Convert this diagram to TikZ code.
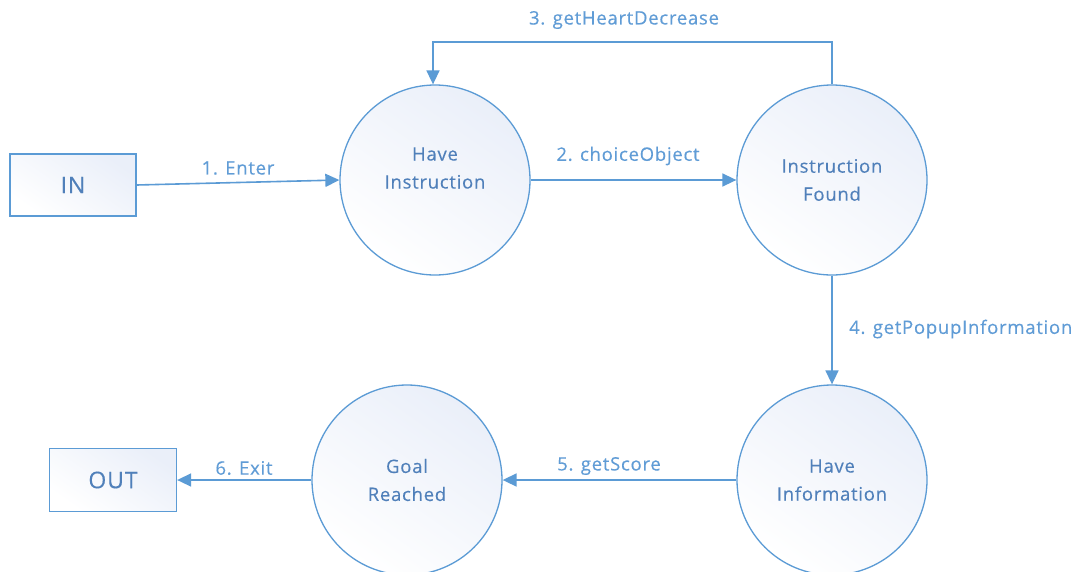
\documentclass[tikz,border=0pt]{standalone}
\usepackage{fontspec}
\setmainfont{Open Sans}[LetterSpace=4, FakeBold=0.3]
\usetikzlibrary{arrows.meta,shapes.geometric}
\definecolor{flowline}{RGB}{91,155,213}
\definecolor{flowlabel}{RGB}{96,156,214}
\definecolor{nodetext}{RGB}{80,128,186}
\definecolor{fillblue}{RGB}{234,239,249}
\tikzset{
  statetext/.style={align=center, text=nodetext, inner sep=0pt,
    font=\fontsize{18.5}{28}\selectfont},
  state/.style={circle, draw=flowline, line width=1.3pt, minimum size=190pt,
    inner sep=0pt, statetext,
    shading=axis, top color=fillblue, bottom color=white, shading angle=-35},
  terminal/.style={rectangle, draw=flowline, line width=1.3pt, inner sep=0pt,
    text=nodetext, font=\fontsize{23}{26}\selectfont,
    shading=axis, top color=fillblue, bottom color=white, shading angle=-35},
  flow/.style={draw=flowline, line width=1.6pt,
    -{Triangle[length=14pt,width=13pt]}},
  flowtext/.style={text=flowlabel, font=\fontsize{18.5}{20}\selectfont, inner sep=0pt}
}
\begin{document}
\begin{tikzpicture}[x=1pt,y=-1pt]
\useasboundingbox (0,0) rectangle (1076,571);
\fill[white] (0,0) rectangle (1076,571);

% terminals
\node[terminal, minimum width=126pt, minimum height=62pt] (in) at (73,185) {IN};
\node[terminal, minimum width=127pt, minimum height=63pt] (out) at (113,480) {OUT};

% states
\node[state] (hi) at (435,180) {};
\node[statetext] (hitxt) at ([yshift=12pt]hi.center) {Have\\Instruction};
\node[state] (if) at (832,180) {Instruction\\Found};
\node[state] (hn) at (832,480) {Have\\Information};
\node[state] (gr) at (407,480) {Goal\\Reached};

% flows
\draw[flow] (in.east) -- (hi.west);
\node[flowtext] (l1) at (238,168) {1. Enter};

\draw[flow] (hi.east) -- (if.west);
\node[flowtext] (l2) at (628,156) {2. choiceObject};

\coordinate (c1) at (832,42);
\coordinate (c2) at (433,42);
\draw[flow] (if.north) -- (c1) -- (c2) -- (hi.north -| c2);
\node[flowtext] (l3) at (624,20) {3. getHeartDecrease};

\draw[flow] (if.south) -- (hn.north);
\node[flowtext, anchor=west] (l4) at (849,329) {4. getPopupInformation};

\draw[flow] (hn.west) -- (gr.east);
\node[flowtext] (l5) at (609,466) {5. getScore};

\draw[flow] (gr.west) -- (out.east);
\node[flowtext] (l6) at (244,468) {6. Exit};
\end{tikzpicture}
\end{document}
